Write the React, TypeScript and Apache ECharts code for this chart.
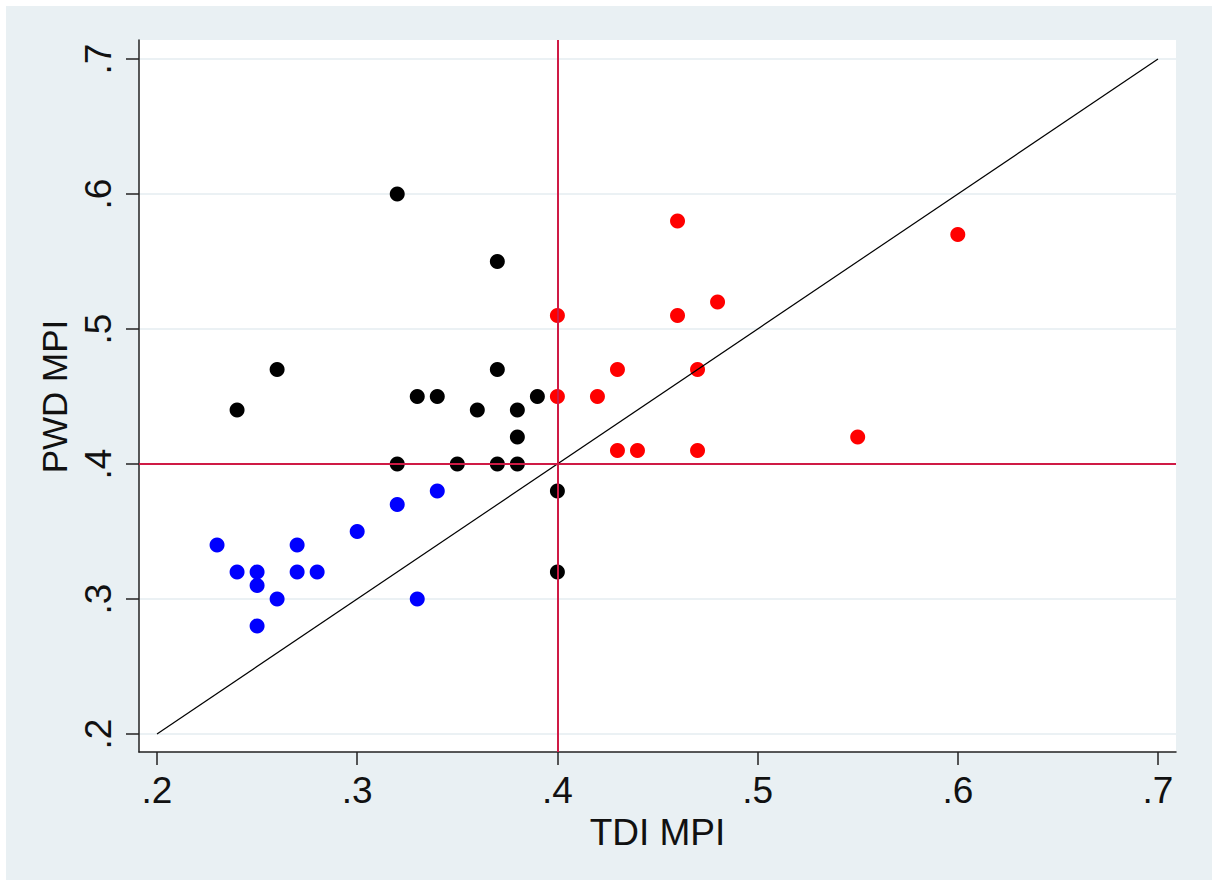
import React, { useEffect, useRef } from "react";
import * as echarts from "echarts";

// Blue group (TDI MPI, PWD MPI)
const blueTDI = [0.23, 0.24, 0.25, 0.25, 0.25, 0.26, 0.27, 0.27, 0.28, 0.3, 0.32, 0.33, 0.34];
const bluePWD = [0.34, 0.32, 0.32, 0.31, 0.28, 0.3, 0.34, 0.32, 0.32, 0.35, 0.37, 0.3, 0.38];
// Black group
const blackTDI = [0.24, 0.26, 0.32, 0.32, 0.33, 0.34, 0.35, 0.36, 0.37, 0.37, 0.37, 0.38, 0.38, 0.38, 0.39, 0.4, 0.4];
const blackPWD = [0.44, 0.47, 0.6, 0.4, 0.45, 0.45, 0.4, 0.44, 0.55, 0.47, 0.4, 0.44, 0.42, 0.4, 0.45, 0.38, 0.32];
// Red group
const redTDI = [0.4, 0.4, 0.42, 0.43, 0.43, 0.44, 0.46, 0.46, 0.47, 0.47, 0.48, 0.55, 0.6];
const redPWD = [0.51, 0.45, 0.45, 0.47, 0.41, 0.41, 0.58, 0.51, 0.47, 0.41, 0.52, 0.42, 0.57];

const tickValues = [0.2, 0.3, 0.4, 0.5, 0.6, 0.7];
const tickLabels = [".2", ".3", ".4", ".5", ".6", ".7"];
const refX = 0.4;
const refY = 0.4;
const diagonalX = [0.2, 0.7];
const diagonalY = [0.2, 0.7];
const xTitle = "TDI MPI";
const yTitle = "PWD MPI";

const zip = (a: number[], b: number[]) => a.map((v, i) => [v, b[i]]);
const fmt = (v: number) => {
  const i = tickValues.findIndex((t) => Math.abs(t - v) < 1e-6);
  return i >= 0 ? tickLabels[i] : "";
};

const FONT = "'Liberation Sans', Arial, sans-serif";
const AXIS_COLOR = "#222";

export default function App() {
  const ref = useRef<HTMLDivElement>(null);
  useEffect(() => {
    if (!ref.current) return;
    const chart = echarts.init(ref.current, undefined, { renderer: "svg" });
    const hiddenAxis = (gridIndex: number) => ({
      gridIndex,
      type: "value",
      min: 0,
      max: 1,
      show: false,
    });
    const scatter = (x: number[], y: number[], color: string) => ({
      type: "scatter",
      xAxisIndex: 0,
      yAxisIndex: 0,
      data: zip(x, y),
      symbol: "circle",
      symbolSize: 15,
      itemStyle: { color, opacity: 1 },
      z: 2,
      silent: true,
    });
    chart.setOption({
      animation: false,
      backgroundColor: "transparent",
      grid: [
        { left: 139, top: 40, width: 1037, height: 712, show: true, backgroundColor: "#ffffff", borderWidth: 0 },
        { left: 139, top: 59, width: 1037, height: 675 },
        { left: 157, top: 40, width: 1001, height: 712 },
      ],
      xAxis: [
        {
          gridIndex: 0,
          type: "value",
          min: 0.19101,
          max: 0.70899,
          axisLine: { show: true, onZero: false, lineStyle: { color: AXIS_COLOR, width: 1.5 } },
          axisTick: { show: false },
          axisLabel: { show: false },
          splitLine: { show: false },
        },
        hiddenAxis(1),
        {
          gridIndex: 2,
          type: "value",
          min: 0.2,
          max: 0.7,
          interval: 0.1,
          axisLine: { show: false, onZero: false },
          axisTick: { show: true, length: 13, lineStyle: { color: AXIS_COLOR, width: 1.5 } },
          axisLabel: {
            show: true,
            formatter: fmt,
            fontSize: 37,
            fontFamily: FONT,
            color: "#111",
            margin: 20,
          },
          splitLine: { show: false },
          name: xTitle,
          nameLocation: "middle",
          nameGap: 54,
          nameTextStyle: { fontSize: 37, fontFamily: FONT, color: "#111" },
        },
      ],
      yAxis: [
        {
          gridIndex: 0,
          type: "value",
          min: 0.186667,
          max: 0.714074,
          axisLine: { show: true, onZero: false, lineStyle: { color: AXIS_COLOR, width: 1.5 } },
          axisTick: { show: false },
          axisLabel: { show: false },
          splitLine: { show: false },
        },
        {
          gridIndex: 1,
          type: "value",
          min: 0.2,
          max: 0.7,
          interval: 0.1,
          axisLine: { show: false, onZero: false },
          axisTick: { show: true, length: 13, lineStyle: { color: AXIS_COLOR, width: 1.5 } },
          axisLabel: {
            show: true,
            formatter: fmt,
            rotate: 90,
            fontSize: 37,
            fontFamily: FONT,
            color: "#111",
            margin: 22,
          },
          splitLine: { show: true, lineStyle: { color: "#e4edf0", width: 1.5 } },
          name: yTitle,
          nameLocation: "middle",
          nameGap: 66,
          nameTextStyle: { fontSize: 35, fontFamily: FONT, color: "#111" },
        },
        hiddenAxis(2),
      ],
      series: [
        {
          type: "scatter",
          xAxisIndex: 0,
          yAxisIndex: 0,
          data: [],
          z: 1,
          silent: true,
          markLine: {
            silent: true,
            symbol: "none",
            label: { show: false },
            lineStyle: { color: "#cf1a45", width: 2, type: "solid" },
            emphasis: { disabled: true },
            data: [{ xAxis: refX }, { yAxis: refY }],
          },
        },
        scatter(blueTDI, bluePWD, "#0000ff"),
        scatter(blackTDI, blackPWD, "#000000"),
        scatter(redTDI, redPWD, "#ff0000"),
        {
          type: "line",
          xAxisIndex: 0,
          yAxisIndex: 0,
          data: zip(diagonalX, diagonalY),
          symbol: "none",
          lineStyle: { color: "#000", width: 1.2 },
          z: 3,
          silent: true,
        },
      ],
    });
    return () => chart.dispose();
  }, []);

  return (
    <div style={{ position: "absolute", left: 0, top: 0, width: 1212, height: 880, background: "#ffffff" }}>
      <div style={{ position: "absolute", left: 6, top: 6, right: 0, bottom: 0, background: "#e9f0f3" }} />
      <div ref={ref} style={{ position: "absolute", left: 0, top: 0, width: 1212, height: 880 }} />
    </div>
  );
}
